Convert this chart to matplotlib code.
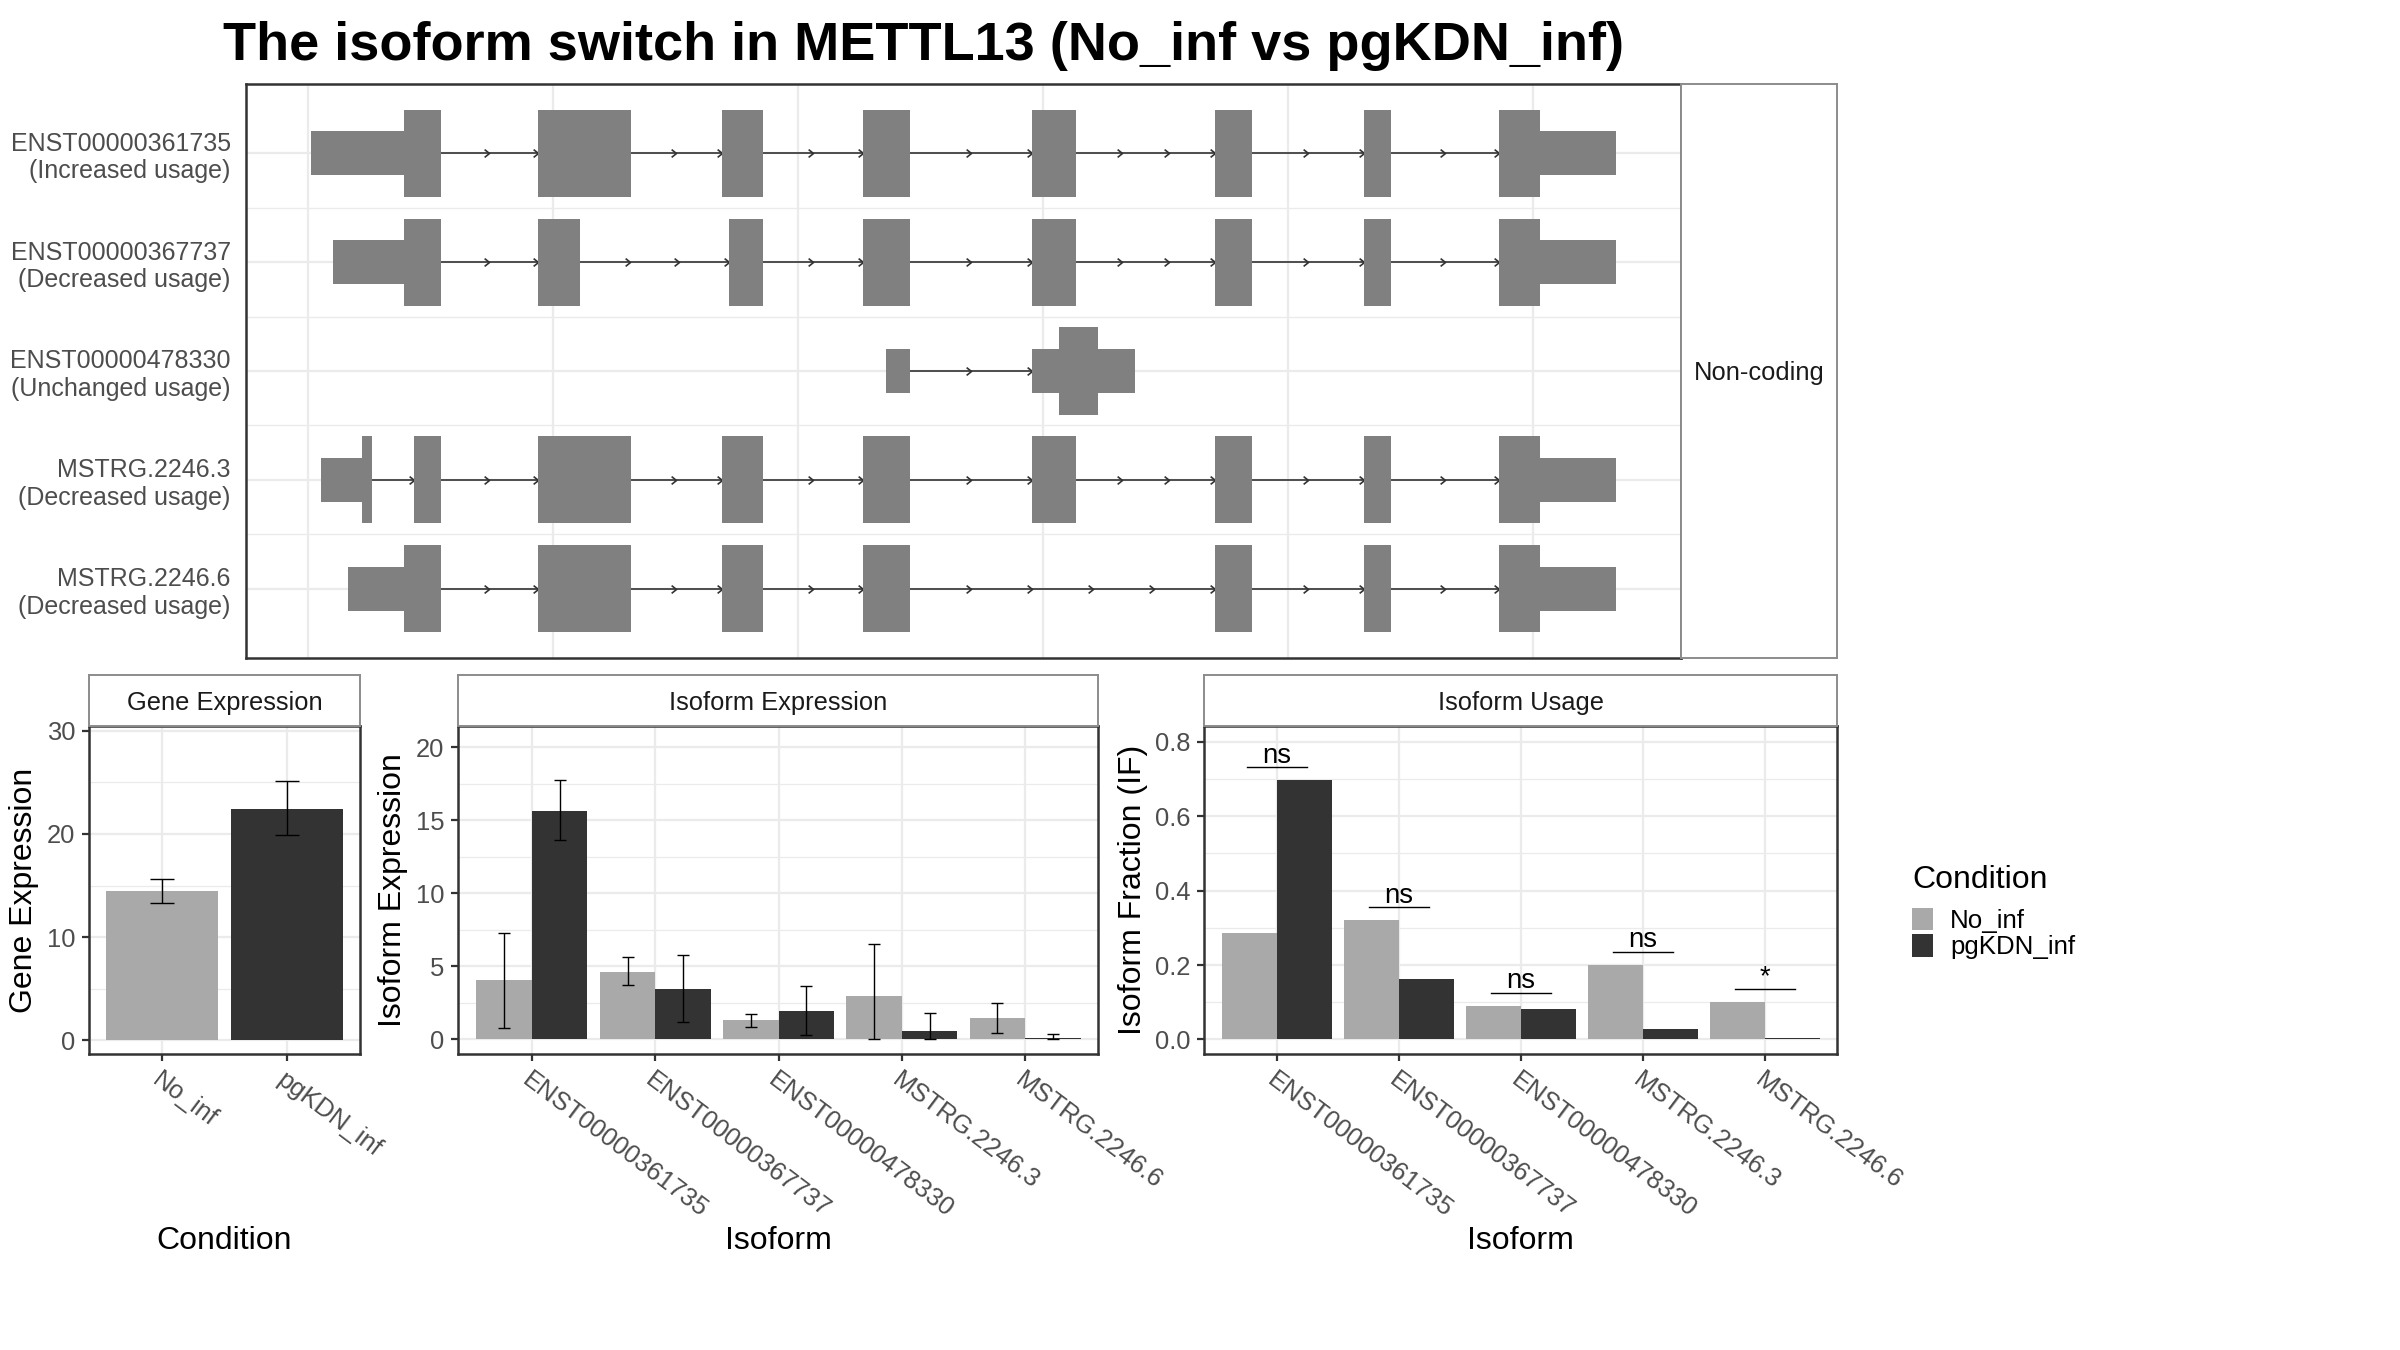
import numpy as np
import matplotlib.pyplot as plt
from matplotlib.path import Path
from matplotlib.patches import Patch

plt.rcParams['font.family'] = ['Liberation Sans', 'DejaVu Sans']

title = 'The isoform switch in METTL13 (No_inf vs pgKDN_inf)'

conditions = ['No_inf', 'pgKDN_inf']
cond_colors = ['#A9A9A9', '#333333']

isoforms = ['ENST00000361735', 'ENST00000367737', 'ENST00000478330',
            'MSTRG.2246.3', 'MSTRG.2246.6']
usage_change = ['Increased usage', 'Decreased usage', 'Unchanged usage',
                'Decreased usage', 'Decreased usage']
coding_class = 'Non-coding'

# exon blocks (start, end, kind) in relative gene coordinates
exons = {
    'ENST00000361735': [(0.6, 19.6, 'utr'), (19.6, 27.1, 'cds'), (46.9, 65.9, 'cds'),
                        (84.5, 92.9, 'cds'), (113.3, 122.9, 'cds'), (147.8, 156.7, 'cds'),
                        (185.1, 192.7, 'cds'), (215.5, 221.0, 'cds'), (243.1, 251.4, 'cds'),
                        (251.4, 266.9, 'utr')],
    'ENST00000367737': [(5.1, 19.6, 'utr'), (19.6, 27.1, 'cds'), (46.9, 55.5, 'cds'),
                        (85.9, 92.9, 'cds'), (113.3, 122.9, 'cds'), (147.8, 156.7, 'cds'),
                        (185.1, 192.7, 'cds'), (215.5, 221.0, 'cds'), (243.1, 251.4, 'cds'),
                        (251.4, 266.9, 'utr')],
    'ENST00000478330': [(117.9, 122.9, 'utr'), (147.8, 168.8, 'utr'), (153.3, 161.2, 'cds')],
    'MSTRG.2246.3': [(2.7, 11.0, 'utr'), (11.0, 13.1, 'cds'), (21.6, 27.1, 'cds'),
                     (46.9, 65.9, 'cds'), (84.5, 92.9, 'cds'), (113.3, 122.9, 'cds'),
                     (147.8, 156.7, 'cds'), (185.1, 192.7, 'cds'), (215.5, 221.0, 'cds'),
                     (243.1, 251.4, 'cds'), (251.4, 266.9, 'utr')],
    'MSTRG.2246.6': [(8.2, 19.6, 'utr'), (19.6, 27.1, 'cds'), (46.9, 65.9, 'cds'),
                     (84.5, 92.9, 'cds'), (113.3, 122.9, 'cds'), (185.1, 192.7, 'cds'),
                     (215.5, 221.0, 'cds'), (243.1, 251.4, 'cds'), (251.4, 266.9, 'utr')],
}

# gene expression (mean, lower, upper)
gene_mean = [14.5, 22.47]
gene_lo = [13.27, 19.9]
gene_hi = [15.64, 25.19]

# isoform expression per condition
iso_mean_no = [4.07, 4.62, 1.33, 2.98, 1.47]
iso_lo_no = [0.80, 3.70, 0.85, 0.0, 0.43]
iso_hi_no = [7.29, 5.61, 1.76, 6.52, 2.50]
iso_mean_pg = [15.66, 3.45, 1.93, 0.57, 0.07]
iso_lo_pg = [13.63, 1.17, 0.26, 0.0, 0.0]
iso_hi_pg = [17.72, 5.75, 3.63, 1.83, 0.39]

# isoform usage
if_no = [0.285, 0.320, 0.090, 0.201, 0.101]
if_pg = [0.696, 0.163, 0.082, 0.028, 0.004]
signif = ['ns', 'ns', 'ns', 'ns', '*']

GRID = '#EBEBEB'
BORDER = '#333333'
TICKTXT = '#4D4D4D'
W, H = 2400, 1350


def rect(x0, y0, x1, y1):
    return [x0 / W, 1 - y1 / H, (x1 - x0) / W, (y1 - y0) / H]


fig = plt.figure(figsize=(12, 6.75), dpi=200)
fig.text(223 / W, 1 - 46 / H, title, ha='left', va='center',
         fontsize=19.5, fontweight='bold')

# ---- transcript structure panel ----
ax = fig.add_axes(rect(246, 84, 1681, 658))
rows = np.arange(1, len(isoforms) + 1)
chevron = Path([(-1, 0.8), (0, 0), (-1, -0.8)],
               [Path.MOVETO, Path.LINETO, Path.LINETO])
for row, iso in zip(rows, isoforms):
    blocks = sorted(exons[iso])
    for s, e, kind in blocks:
        h = 0.8 if kind == 'cds' else 0.4
        ax.barh(row, e - s, left=s, height=h, color='#808080', zorder=3)
    # merge blocks to find introns
    merged = []
    for s, e, _ in blocks:
        if merged and s <= merged[-1][1] + 1e-6:
            merged[-1][1] = max(merged[-1][1], e)
        else:
            merged.append([s, e])
    for (s0, e0), (s1, e1) in zip(merged[:-1], merged[1:]):
        ax.plot([e0, s1], [row, row], color=BORDER, lw=0.6, zorder=2)
        n = int(np.ceil((s1 - e0) / 13.3))
        xs = e0 + (s1 - e0) * np.arange(1, n + 1) / n
        ax.plot(xs, [row] * n, ls='none', marker=chevron, ms=3.5,
                mec=BORDER, mfc='none', mew=0.6, zorder=2)

ax.set_xlim(-12.65, 280.2)
ax.set_ylim(5.635, 0.365)
ax.set_xticks(np.arange(0, 251, 50))
ax.set_xticklabels([])
ax.set_yticks(rows)
ax.set_yticklabels([f'{i}\n({u})' for i, u in zip(isoforms, usage_change)],
                   fontsize=9, color=TICKTXT, linespacing=1.2)
ax.set_yticks(rows[:-1] + 0.5, minor=True)
ax.tick_params(which='both', length=0)
ax.tick_params(axis='y', pad=5.5)
ax.grid(True, which='major', color=GRID, lw=0.8, zorder=0)
ax.grid(True, which='minor', axis='y', color=GRID, lw=0.5, zorder=0)
ax.set_axisbelow(True)
for sp in ax.spines.values():
    sp.set_color(BORDER)
    sp.set_linewidth(0.9)

sax = fig.add_axes(rect(1681, 84, 1837, 658))
sax.set_xticks([])
sax.set_yticks([])
for sp in sax.spines.values():
    sp.set_color('#8C8C8C')
    sp.set_linewidth(0.7)
sax.text(0.5, 0.497, coding_class, transform=sax.transAxes, ha='center',
         va='center', fontsize=9.2, color='#1A1A1A')


def style_panel(a, x0, x1, strip_title):
    a.tick_params(axis='both', which='major', length=7 / 2.78, width=0.8,
                  color=BORDER, labelsize=9.2, labelcolor=TICKTXT, pad=2.5)
    a.tick_params(axis='both', which='minor', length=0)
    a.grid(True, which='major', color=GRID, lw=0.8)
    a.grid(True, which='minor', axis='y', color=GRID, lw=0.45)
    a.set_axisbelow(True)
    for sp in a.spines.values():
        sp.set_color(BORDER)
        sp.set_linewidth(0.9)
    st = fig.add_axes(rect(x0, 675, x1, 726))
    st.set_xticks([])
    st.set_yticks([])
    for sp in st.spines.values():
        sp.set_color('#8C8C8C')
        sp.set_linewidth(0.7)
    st.text(0.5, 0.45, strip_title, transform=st.transAxes, ha='center',
            va='center', fontsize=9.2, color='#1A1A1A')


def rot_labels(a, labels):
    a.set_xticklabels(labels, rotation=-37, ha='left', va='top',
                      rotation_mode='anchor')


# ---- gene expression ----
g = fig.add_axes(rect(89, 726, 360, 1054))
gx = np.arange(1, 3)
g.bar(gx, gene_mean, width=0.9, color=cond_colors, zorder=2)
g.errorbar(gx, gene_mean,
           yerr=[np.subtract(gene_mean, gene_lo), np.subtract(gene_hi, gene_mean)],
           fmt='none', ecolor='black', elinewidth=0.5, capsize=4.4,
           capthick=0.5, zorder=3)
g.set_xlim(0.41, 2.59)
g.set_ylim(-1.35, 30.48)
g.set_xticks(gx)
rot_labels(g, conditions)
g.set_yticks([0, 10, 20, 30])
g.set_yticks([5, 15, 25], minor=True)
style_panel(g, 89, 360, 'Gene Expression')
g.set_ylabel('Gene Expression', fontsize=11.5, va='center')
g.yaxis.set_label_coords((24 - 89) / 271, 0.5)
g.set_xlabel('Condition', fontsize=11.5, va='center')
g.xaxis.set_label_coords(0.5, (1054 - 1241) / 328)

# ---- isoform expression ----
ie = fig.add_axes(rect(458, 726, 1098, 1054))
ix = np.arange(1, len(isoforms) + 1)
ie.bar(ix - 0.225, iso_mean_no, width=0.45, color=cond_colors[0], zorder=2)
ie.bar(ix + 0.225, iso_mean_pg, width=0.45, color=cond_colors[1], zorder=2)
for off, m, lo, hi in [(-0.225, iso_mean_no, iso_lo_no, iso_hi_no),
                       (0.225, iso_mean_pg, iso_lo_pg, iso_hi_pg)]:
    ie.errorbar(ix + off, m, yerr=[np.subtract(m, lo), np.subtract(hi, m)],
                fmt='none', ecolor='black', elinewidth=0.5, capsize=2.2,
                capthick=0.5, zorder=3)
ie.set_xlim(0.4, 5.59)
ie.set_ylim(-1.01, 21.45)
ie.set_xticks(ix)
rot_labels(ie, isoforms)
ie.set_yticks([0, 5, 10, 15, 20])
ie.set_yticks([2.5, 7.5, 12.5, 17.5], minor=True)
style_panel(ie, 458, 1098, 'Isoform Expression')
ie.set_ylabel('Isoform Expression', fontsize=11.5, va='center')
ie.yaxis.set_label_coords((393 - 458) / 640, 0.5)
ie.set_xlabel('Isoform', fontsize=11.5, va='center')
ie.xaxis.set_label_coords(0.5, (1054 - 1241) / 328)

# ---- isoform usage ----
iu = fig.add_axes(rect(1204, 726, 1837, 1054))
iu.bar(ix - 0.225, if_no, width=0.45, color=cond_colors[0], zorder=2)
iu.bar(ix + 0.225, if_pg, width=0.45, color=cond_colors[1], zorder=2)
for xi, a, b, lab in zip(ix, if_no, if_pg, signif):
    yl = max(a, b) + 0.035
    iu.plot([xi - 0.245, xi + 0.245], [yl, yl], color='black', lw=0.5, zorder=3)
    iu.text(xi, yl + 0.012, lab, ha='center', va='baseline', fontsize=9.9,
            color='black')
iu.set_xlim(0.4, 5.59)
iu.set_ylim(-0.039, 0.842)
iu.set_xticks(ix)
rot_labels(iu, isoforms)
iu.set_yticks([0, 0.2, 0.4, 0.6, 0.8])
iu.set_yticklabels(['0.0', '0.2', '0.4', '0.6', '0.8'])
iu.set_yticks([0.1, 0.3, 0.5, 0.7], minor=True)
style_panel(iu, 1204, 1837, 'Isoform Usage')
iu.set_ylabel('Isoform Fraction (IF)', fontsize=11.5, va='center')
iu.yaxis.set_label_coords((1133 - 1204) / 633, 0.5)
iu.set_xlabel('Isoform', fontsize=11.5, va='center')
iu.xaxis.set_label_coords(0.5, (1054 - 1241) / 328)

# legend: title as separate text, keys below
fig.text(1912 / W, 1 - 880 / H, 'Condition', ha='left', va='center',
         fontsize=11.5)
handles = [Patch(facecolor=c, edgecolor='none', label=l)
           for c, l in zip(cond_colors, conditions)]
fig.legend(handles=handles, loc='upper left',
           bbox_to_anchor=(1912 / W, 1 - 908 / H), frameon=False,
           fontsize=9.3, handlelength=0.82, handleheight=0.95,
           handletextpad=0.65, labelspacing=0.05,
           borderpad=0, borderaxespad=0)

fig.savefig('out.png', dpi=200)
